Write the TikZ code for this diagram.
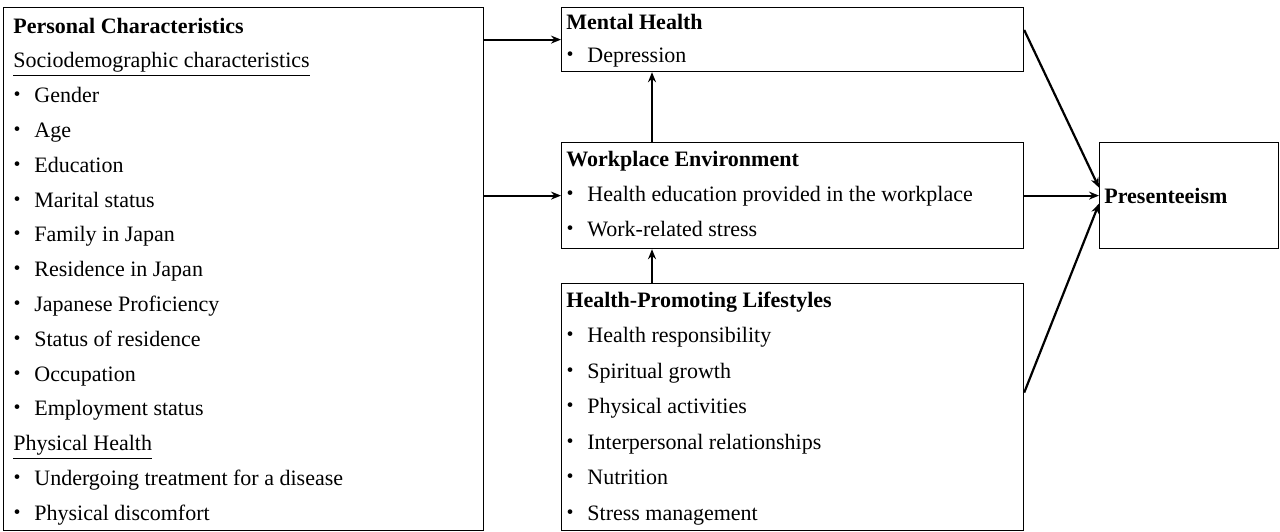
\documentclass[tikz,border=0pt]{standalone}
\usepackage{fontspec}
\setmainfont{Liberation Serif}
\newfontfamily\cjk{Noto Sans CJK JP}
\usetikzlibrary{arrows.meta}

\newcommand{\bul}{\hspace*{-3.5pt}\makebox[11pt]{\cjk ・}\hspace{3pt}}

\tikzset{
  box/.style={draw, line width=0.6pt, rectangle, anchor=north west, inner sep=0pt},
  line/.style={anchor=base west, inner sep=0pt, font=\fontsize{11pt}{13pt}\selectfont},
  arr/.style={line width=1.1pt, -{Stealth[length=5pt,width=4pt]}}
}

\begin{document}
\begin{tikzpicture}[x=0.5pt, y=-0.5pt]
    \useasboundingbox (0,0) rectangle (1280,531);

    % Draw the boxes
    \node[box, minimum width=240pt, minimum height=261.5pt] (pc) at (3,7) {};
    \node[box, minimum width=231pt, minimum height=32pt] (mh) at (561,7) {};
    \node[box, minimum width=231pt, minimum height=53pt] (we) at (561,142) {};
    \node[box, minimum width=231pt, minimum height=123.5pt] (hp) at (561,283) {};
    \node[box, minimum width=89.5pt, minimum height=53pt] (pr) at (1099,142) {};

    % Personal characteristics
    \foreach \t [count=\i] in {\textbf{Personal Characteristics},
        \underline{Sociodemographic characteristics},
        \bul Gender, \bul Age, \bul Education, \bul Marital status,
        \bul Family in Japan, \bul Residence in Japan,
        \bul Japanese Proficiency, \bul Status of residence,
        \bul Occupation, \bul Employment status,
        \underline{Physical Health},
        \bul Undergoing treatment for a disease, \bul Physical discomfort}
      \node[line] (pc-\i) at (13,{33+34.8*(\i-1)}) {\t};

    % Mental health
    \node[line] (mh-1) at (566,29) {\textbf{Mental Health}};
    \node[line] (mh-2) at (566,62) {\bul Depression};

    % Workplace environment
    \foreach \t [count=\i] in {\textbf{Workplace Environment},
        \bul Health education provided in the workplace,
        \bul Work-related stress}
      \node[line] (we-\i) at (566,{166+35*(\i-1)}) {\t};

    % Health-promoting lifestyles
    \foreach \t [count=\i] in {\textbf{Health-Promoting Lifestyles},
        \bul Health responsibility, \bul Spiritual growth,
        \bul Physical activities, \bul Interpersonal relationships,
        \bul Nutrition, \bul Stress management}
      \node[line] (hp-\i) at (566,{307+35.5*(\i-1)}) {\t};

    % Presenteeism
    \node[line] (pr-1) at (1104,203) {\textbf{Presenteeism}};

    % Draw the arrows
    \draw[arr] (pc.east |- mh.west) -- (mh.west);
    \draw[arr] (pc.east |- we.west) -- (we.west);
    \draw[arr] ([xshift=45.5pt]we.north west) -- ([xshift=45.5pt]mh.south west);
    \draw[arr] ([xshift=45.5pt]hp.north west) -- ([xshift=45.5pt]we.south west);
    \draw[arr] ([yshift=-11.5pt]mh.north east) -- ([yshift=4pt]pr.west);
    \draw[arr] (we.east) -- (pr.west);
    \draw[arr] ([yshift=7.25pt]hp.east) -- ([yshift=-4pt]pr.west);
\end{tikzpicture}
\end{document}
